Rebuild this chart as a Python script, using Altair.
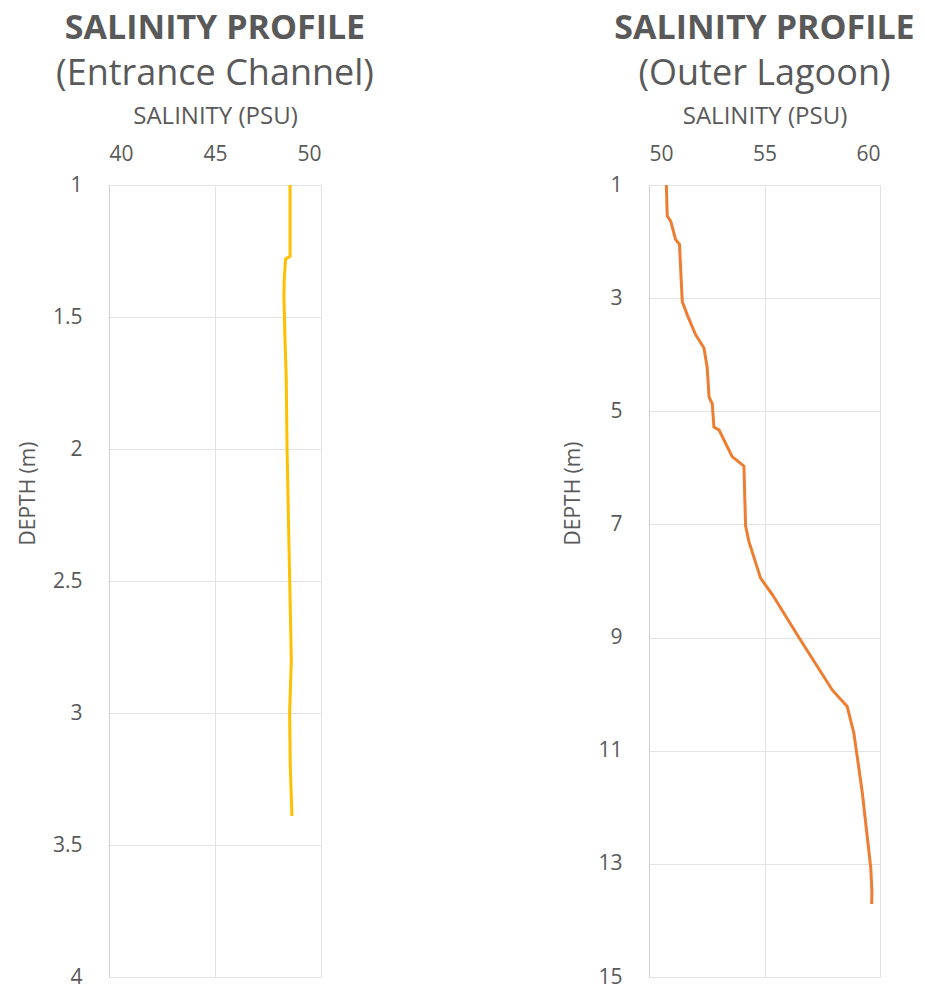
import altair as alt
import pandas as pd

# Entrance Channel profile
ent_depth = [1.0, 1.27, 1.28, 1.35, 1.42, 1.58, 1.73, 2.0, 2.37, 2.6, 2.8, 2.9, 3.0, 3.2, 3.39]
ent_sal = [48.54, 48.54, 48.33, 48.27, 48.25, 48.3, 48.36, 48.4, 48.49, 48.55, 48.6, 48.56, 48.52, 48.55, 48.63]

# Outer Lagoon profile
out_depth = [1.0, 1.55, 1.64, 1.96, 2.05, 2.48, 3.06, 3.30, 3.65, 3.88, 4.23, 4.75, 4.87, 5.28,
             5.33, 5.57, 5.80, 5.97, 7.02, 7.31, 7.95, 8.24, 9.0, 9.93, 10.22, 10.69, 11.73,
             13.07, 13.5, 13.71]
out_sal = [50.75, 50.79, 50.94, 51.15, 51.32, 51.37, 51.44, 51.66, 52.02, 52.38, 52.52, 52.6,
           52.74, 52.81, 53.03, 53.32, 53.6, 54.11, 54.18, 54.33, 54.83, 55.34, 56.49, 57.94,
           58.58, 58.87, 59.23, 59.6, 59.65, 59.64]

ent_x_ticks = [40, 45, 50]
ent_y_ticks = [1, 1.5, 2, 2.5, 3, 3.5, 4]
out_x_ticks = [50, 55, 60]
out_y_ticks = [1, 3, 5, 7, 9, 11, 13, 15]

FONT = "Open Sans"
GRAY = "#595959"
GRID = "#e3e3e3"


def panel(depth, sal, color, xticks, yticks, subtitle, width):
    df = pd.DataFrame({"depth": depth, "sal": sal})
    return (
        alt.Chart(df)
        .mark_line(color=color, strokeWidth=3)
        .encode(
            x=alt.X(
                "sal:Q",
                scale=alt.Scale(domain=[xticks[0], xticks[-1]], nice=False, zero=False),
                axis=alt.Axis(
                    orient="top", values=xticks, title="SALINITY (PSU)", format="~g",
                    ticks=False, tickSize=0, domain=False, grid=True, gridColor=GRID,
                    labelFont=FONT, labelFontSize=21, labelColor=GRAY, labelPadding=25,
                    labelBaseline="alphabetic",
                    titleFont=FONT, titleFontSize=24, titleFontWeight="normal",
                    titleColor=GRAY, titlePadding=15,
                ),
            ),
            y=alt.Y(
                "depth:Q",
                scale=alt.Scale(domain=[yticks[0], yticks[-1]], reverse=True, nice=False, zero=False),
                axis=alt.Axis(
                    values=yticks, title="DEPTH (m)", format="~g",
                    ticks=False, tickSize=0, domain=True, domainColor="#d0d0d0",
                    grid=True, gridColor=GRID,
                    labelFont=FONT, labelFontSize=21, labelColor=GRAY, labelPadding=27,
                    titleFont=FONT, titleFontSize=21, titleFontWeight="normal",
                    titleColor=GRAY, titlePadding=14, titleY=308,
                ),
            ),
            order="depth:Q",
        )
        .properties(
            width=width,
            height=792,
            title=alt.TitleParams(
                "SALINITY PROFILE",
                subtitle=subtitle,
                font=FONT, fontSize=34, fontWeight="bold", color=GRAY,
                subtitleFont=FONT, subtitleFontSize=36, subtitleColor=GRAY,
                subtitleFontWeight="normal", subtitlePadding=11,
                anchor="middle", frame="group", offset=12,
            ),
        )
    )


left = panel(ent_depth, ent_sal, "#FFC000", ent_x_ticks, ent_y_ticks, "(Entrance Channel)", 212)
right = panel(out_depth, out_sal, "#ED7D31", out_x_ticks, out_y_ticks, "(Outer Lagoon)", 231)

chart = (
    alt.hconcat(left, right, spacing=328, bounds="flush")
    .properties(padding={"left": 8, "top": 3, "right": 0, "bottom": 0})
    .configure_view(stroke=None)
    .configure(background="white")
)

chart.save("out.html", embed_options={"renderer": "svg", "actions": False})
